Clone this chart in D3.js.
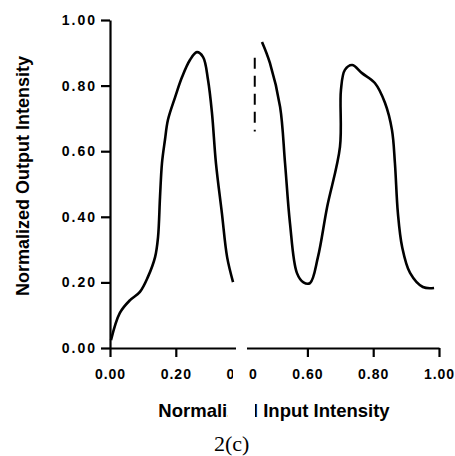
<!DOCTYPE html>
<html>
<head>
<meta charset="utf-8">
<script src="https://cdn.jsdelivr.net/npm/d3@7.9.0/dist/d3.min.js"></script>
<style>
  body { margin: 0; background: #fff; }
  svg { display: block; font-family: "Liberation Sans", Arial, sans-serif; }
  .tick text { font-size: 14px; font-weight: bold; letter-spacing: 2px; fill: #000; }
  .x-axis .tick text { letter-spacing: 1px; }
  .tick line, .domain { stroke: #000; stroke-width: 2.2; }
</style>
</head>
<body>
<svg width="455" height="456"></svg>
<script>
// values (null = hidden by the scan gap)
const inputX = [0.003, 0.03, 0.061, 0.091, 0.115, 0.137, 0.146, 0.152, 0.158, 0.167, 0.176, 0.198,
  0.219, 0.243, 0.264, 0.283, 0.298, 0.31, 0.322, 0.34, 0.356, 0.374,
  0.42,
  0.462, 0.486, 0.517, 0.532, 0.547, 0.568, 0.588, 0.608, 0.632, 0.66, 0.699, 0.702, 0.714, 0.736,
  0.766, 0.805, 0.836, 0.857, 0.866, 0.875, 0.888, 0.912, 0.951, 0.985];
const outputY = [0.024, 0.107, 0.146, 0.171, 0.216, 0.277, 0.338, 0.46, 0.564, 0.634, 0.695, 0.765,
  0.826, 0.878, 0.902, 0.887, 0.817, 0.716, 0.564, 0.412, 0.277, 0.201,
  null,
  0.933, 0.869, 0.735, 0.564, 0.381, 0.229, 0.2, 0.198, 0.277, 0.43, 0.613, 0.787, 0.848, 0.863,
  0.838, 0.808, 0.747, 0.665, 0.564, 0.412, 0.308, 0.229, 0.186, 0.183];
const tickValues = [0, 0.2, 0.4, 0.6, 0.8, 1.0];
const xTitle = 'Normalized Input Intensity';
const yTitle = 'Normalized Output Intensity';
const figLabel = '2(c)';

const points = inputX.map((x, i) => ({ x: x, y: outputY[i] }));

const svg = d3.select('svg');
const x = d3.scaleLinear().domain([0, 1]).range([110, 439]);
const y = d3.scaleLinear().domain([0, 1]).range([348, 20]);

svg.append('g')
  .attr('class', 'x-axis')
  .attr('transform', `translate(0,${y(0)})`)
  .call(d3.axisBottom(x).tickValues(tickValues).tickFormat(d3.format('.2f')).tickSize(9).tickSizeOuter(0).tickPadding(12));

svg.append('g')
  .attr('class', 'y-axis')
  .attr('transform', `translate(${x(0)},0)`)
  .call(d3.axisLeft(y).tickValues(tickValues).tickFormat(d3.format('.2f')).tickSize(9).tickSizeOuter(0).tickPadding(4));

let line = d3.line()
  .defined((d) => d.y !== null)
  .x((d) => x(d.x))
  .y((d) => y(d.y))
  .curve(d3.curveCatmullRom.alpha(0.5));

svg.append('path')
  .datum(points)
  .attr('d', line)
  .attr('fill', 'none')
  .attr('stroke', '#000')
  .attr('stroke-width', 2.6)
  .attr('stroke-linejoin', 'round');

// broken vertical mark left of the second peak
svg.append('line')
  .attr('x1', x(0.44)).attr('x2', x(0.44))
  .attr('y1', y(0.885)).attr('y2', y(0.66))
  .attr('stroke', '#000')
  .attr('stroke-width', 2)
  .attr('stroke-dasharray', '11,7');

svg.append('text')
  .attr('x', 274)
  .attr('y', 417)
  .attr('text-anchor', 'middle')
  .attr('font-size', 18.5)
  .attr('font-weight', 'bold')
  .text(xTitle);

svg.append('text')
  .attr('transform', 'translate(29,176) rotate(-90)')
  .attr('text-anchor', 'middle')
  .attr('font-size', 18)
  .attr('font-weight', 'bold')
  .text(yTitle);

svg.append('text')
  .attr('x', 214)
  .attr('y', 451)
  .attr('font-family', '"Liberation Serif", serif')
  .attr('font-size', 22)
  .text(figLabel);

// white gap from the scan, drawn over the axis area
svg.append('rect').attr('x', 236).attr('y', 344).attr('width', 11).attr('height', 14).attr('fill', '#fff');
svg.append('rect').attr('x', 233).attr('y', 360).attr('width', 16).attr('height', 24).attr('fill', '#fff');
svg.append('rect').attr('x', 228).attr('y', 398).attr('width', 27).attr('height', 24).attr('fill', '#fff');
</script>
</body>
</html>
